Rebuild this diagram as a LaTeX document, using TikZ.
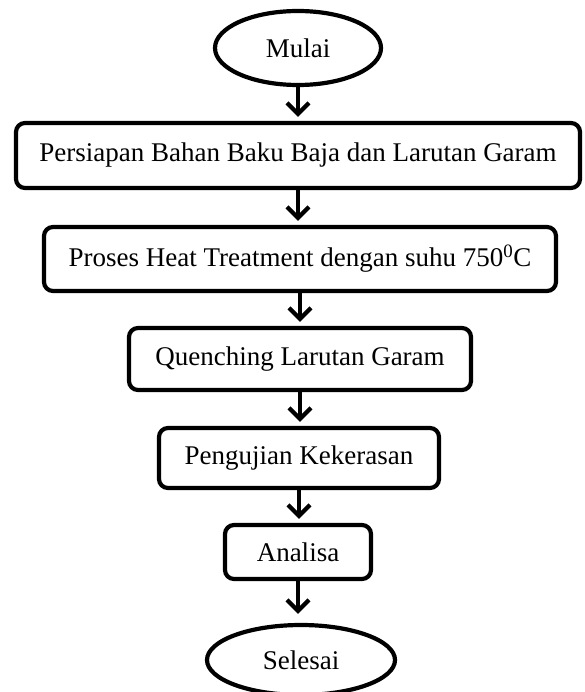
\documentclass[tikz,border=0pt]{standalone}
\usepackage{fontspec}
\setmainfont{Liberation Serif}
\usetikzlibrary{shapes.geometric,arrows.meta}
\begin{document}
\begin{tikzpicture}[x=1pt,y=-1pt,
  every node/.style={font=\fontsize{27}{31}\selectfont, text=black},
  boxnode/.style={draw=black, line width=4.2pt, rounded corners=9pt, inner sep=0pt},
  ovalnode/.style={draw=black, line width=4.2pt, ellipse, inner sep=0pt},
  arr/.style={draw=black, line width=4.2pt, shorten >=4pt,
    -{Straight Barb[length=11pt,width=22pt,line width=4.2pt]}}]
\useasboundingbox (0,0) rectangle (585,692);
\node[ovalnode, minimum width=166pt, minimum height=74pt] (mulai) at (298,48) {Mulai};
\node[boxnode, minimum width=564pt, minimum height=65pt] (b1) at (298,155.5) {Persiapan Bahan Baku Baja dan Larutan Garam};
\node[boxnode, minimum width=512pt, minimum height=64pt] (b2) at (300,259) {Proses Heat Treatment dengan suhu 750\textsuperscript{0}C};
\node[boxnode, minimum width=342pt, minimum height=62pt] (b3) at (300,359) {Quenching Larutan Garam};
\node[boxnode, minimum width=280pt, minimum height=60pt] (b4) at (299,458) {Pengujian Kekerasan};
\node[boxnode, minimum width=146pt, minimum height=54pt] (b5) at (298,552) {Analisa};
\node[ovalnode, minimum width=188pt, minimum height=70pt] (selesai) at (301,660) {Selesai};
\draw[arr] (mulai.south) -- (mulai.south |- b1.north);
\draw[arr] (b1.south) -- (b1.south |- b2.north);
\draw[arr] (b2.south) -- (b2.south |- b3.north);
\draw[arr] (b3.south) -- (b3.south |- b4.north);
\draw[arr] (b4.south) -- (b4.south |- b5.north);
\draw[arr, shorten >=9pt] (b5.south) -- (b5.south |- selesai.north);
\end{tikzpicture}
\end{document}
